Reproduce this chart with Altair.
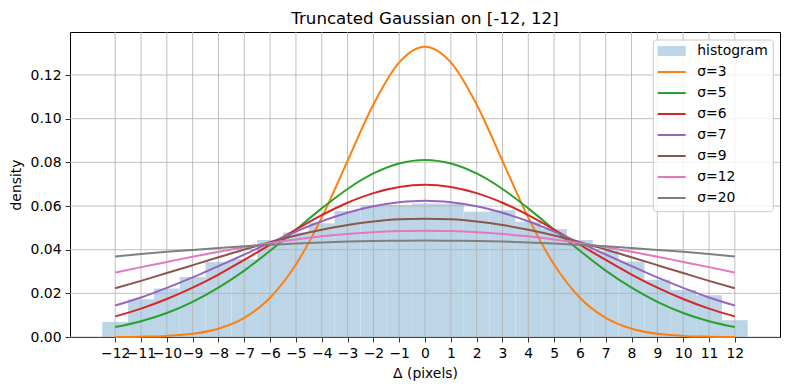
import altair as alt
import pandas as pd

# ---------------- data ----------------
x_ticks = list(range(-12, 13))
y_ticks = [0.00, 0.02, 0.04, 0.06, 0.08, 0.10, 0.12]

bin_centers = list(range(-12, 13))
hist_density = [0.0069, 0.0173, 0.0222, 0.0275, 0.0343, 0.0356, 0.0444, 0.0479,
                0.0521, 0.0577, 0.0604, 0.0605, 0.0612, 0.0610, 0.0574, 0.0581,
                0.0528, 0.0495, 0.0444, 0.0395, 0.0346, 0.0262, 0.0215, 0.0191, 0.0077]

curve_x = list(range(-12, 13))
sigma3 = [0.00004, 0.00016, 0.00051, 0.00148, 0.00380, 0.00874, 0.0180, 0.0332, 0.0547,
          0.0807, 0.1065, 0.1258, 0.1330, 0.1258, 0.1065, 0.0807, 0.0547, 0.0332,
          0.0180, 0.00874, 0.00380, 0.00148, 0.00051, 0.00016, 0.00004]
sigma5 = [0.00455, 0.00721, 0.0110, 0.0161, 0.0226, 0.0304, 0.0395, 0.0492, 0.0589,
          0.0678, 0.0749, 0.0795, 0.0811, 0.0795, 0.0749, 0.0678, 0.0589, 0.0492,
          0.0395, 0.0304, 0.0226, 0.0161, 0.0110, 0.00721, 0.00455]
sigma6 = [0.00943, 0.0130, 0.0174, 0.0226, 0.0286, 0.0353, 0.0423, 0.0492, 0.0558,
          0.0615, 0.0659, 0.0687, 0.0697, 0.0687, 0.0659, 0.0615, 0.0558, 0.0492,
          0.0423, 0.0353, 0.0286, 0.0226, 0.0174, 0.0130, 0.00943]
sigma7 = [0.0144, 0.0181, 0.0225, 0.0273, 0.0325, 0.0378, 0.0432, 0.0483, 0.0530,
          0.0569, 0.0599, 0.0617, 0.0624, 0.0617, 0.0599, 0.0569, 0.0530, 0.0483,
          0.0432, 0.0378, 0.0325, 0.0273, 0.0225, 0.0181, 0.0144]
sigma9 = [0.0223, 0.0257, 0.0293, 0.0329, 0.0365, 0.0401, 0.0434, 0.0465, 0.0491,
          0.0513, 0.0529, 0.0539, 0.0542, 0.0539, 0.0529, 0.0513, 0.0491, 0.0465,
          0.0434, 0.0401, 0.0365, 0.0329, 0.0293, 0.0257, 0.0223]
sigma12 = [0.0295, 0.0320, 0.0344, 0.0368, 0.0390, 0.0411, 0.0430, 0.0447, 0.0461,
           0.0472, 0.0480, 0.0485, 0.0487, 0.0485, 0.0480, 0.0472, 0.0461, 0.0447,
           0.0430, 0.0411, 0.0390, 0.0368, 0.0344, 0.0320, 0.0295]
sigma20 = [0.0369, 0.0380, 0.0390, 0.0399, 0.0408, 0.0416, 0.0422, 0.0428, 0.0433,
           0.0437, 0.0440, 0.0441, 0.0442, 0.0441, 0.0440, 0.0437, 0.0433, 0.0428,
           0.0422, 0.0416, 0.0408, 0.0399, 0.0390, 0.0380, 0.0369]

series_names = ["σ=3", "σ=5", "σ=6", "σ=7", "σ=9", "σ=12", "σ=20"]
series_values = [sigma3, sigma5, sigma6, sigma7, sigma9, sigma12, sigma20]
series_colors = ["#ff7f0e", "#2ca02c", "#d62728", "#9467bd", "#8c564b", "#e377c2", "#7f7f7f"]
hist_label = "histogram"
hist_color = "#bcd6e8"

# ---------------- tables ----------------
df_hist = pd.DataFrame({"center": bin_centers, "density": hist_density})
rows = []
for name, vals in zip(series_names, series_values):
    for xv, yv in zip(curve_x, vals):
        rows.append({"x": xv, "density": yv, "series": name})
df_lines = pd.DataFrame(rows)
df_xt = pd.DataFrame({"tick": x_ticks})
df_yt = pd.DataFrame({"tick": y_ticks})
leg_labels = [hist_label] + series_names
leg_colors = [hist_color] + series_colors
df_leg = pd.DataFrame({
    "label": leg_labels,
    "color": leg_colors,
    "kind": ["patch"] + ["line"] * len(series_names),
    "row": list(range(len(leg_labels))),
})

FONT = "DejaVu Sans"
xscale = alt.Scale(domain=[-13.75, 13.75], nice=False, zero=False)
yscale = alt.Scale(domain=[0, 0.1397], nice=False, zero=False)

x_axis = alt.Axis(values=x_ticks, title="Δ (pixels)", grid=False, domain=False,
                  tickColor="black", tickSize=5, tickWidth=0.8,
                  labelExpr="replace(datum.label, '-', '−')",
                  labelOverlap=False, labelBound=False, labelFlush=False,
                  labelPadding=4, titlePadding=7,
                  labelFont=FONT, labelFontSize=13.9, labelColor="black",
                  titleFont=FONT, titleFontSize=13.9, titleFontWeight="normal",
                  titleColor="black")
y_axis = alt.Axis(values=y_ticks, format=".2f", title="density", grid=False,
                  domain=False, tickColor="black", tickSize=5, tickWidth=0.8,
                  labelPadding=4, titlePadding=7,
                  labelFont=FONT, labelFontSize=13.9, labelColor="black",
                  titleFont=FONT, titleFontSize=13.9, titleFontWeight="normal",
                  titleColor="black")

bars = alt.Chart(df_hist).transform_calculate(
    x0="datum.center - 0.5", x1="datum.center + 0.5"
).mark_rect(color=hist_color).encode(
    x=alt.X("x0:Q", scale=xscale, axis=x_axis),
    x2="x1:Q",
    y=alt.Y("density:Q", scale=yscale, axis=y_axis),
)

vgrid = alt.Chart(df_xt).mark_rule(color="#b0b0b0", strokeWidth=0.8).encode(
    x=alt.X("tick:Q", scale=xscale, axis=x_axis)
)
hgrid = alt.Chart(df_yt).mark_rule(color="#b0b0b0", strokeWidth=0.8).encode(
    y=alt.Y("tick:Q", scale=yscale, axis=y_axis)
)

lines = alt.Chart(df_lines).mark_line(strokeWidth=2, interpolate="monotone").encode(
    x=alt.X("x:Q", scale=xscale, axis=x_axis),
    y=alt.Y("density:Q", scale=yscale, axis=y_axis),
    color=alt.Color("series:N", scale=alt.Scale(domain=series_names, range=series_colors),
                    legend=None),
    detail="series:N",
)

# ---------------- legend (drawn with marks) ----------------
frame = alt.Chart(alt.Data(values=[{}])).mark_rect(
    fill="white", fillOpacity=0.8, stroke="#cccccc", strokeWidth=1, cornerRadius=3
).encode(
    x=alt.value(583.3), x2=alt.value(703.3), y=alt.value(8), y2=alt.value(179.7)
)
leg_base = alt.Chart(df_leg).transform_calculate(
    py="19 + 21 * datum.row", py0="14 + 21 * datum.row", py1="24 + 21 * datum.row"
)
leg_patch = leg_base.transform_filter("datum.kind == 'patch'").mark_rect().encode(
    x=alt.value(587.7), x2=alt.value(615.7),
    y=alt.Y("py0:Q", scale=None), y2="py1:Q",
    color=alt.Color("color:N", scale=None, legend=None),
)
leg_lines = leg_base.transform_filter("datum.kind == 'line'").mark_rule(strokeWidth=2).encode(
    x=alt.value(587.7), x2=alt.value(615.7),
    y=alt.Y("py:Q", scale=None),
    color=alt.Color("color:N", scale=None, legend=None),
)
leg_text = leg_base.mark_text(align="left", baseline="middle", font=FONT,
                              fontSize=13.9, color="#000000").encode(
    x=alt.value(627.3),
    y=alt.Y("py:Q", scale=None),
    text="label:N",
)

chart = alt.layer(bars, vgrid, hgrid, lines, frame, leg_patch, leg_lines, leg_text).properties(
    width=710, height=305,
    title=alt.TitleParams("Truncated Gaussian on [-12, 12]", font=FONT, fontSize=16.67,
                          fontWeight="normal", color="black", anchor="middle",
                          baseline="alphabetic", offset=-9),
    autosize=alt.AutoSizeParams(type="none"),
    padding={"left": 62, "top": 24, "right": 2, "bottom": 45},
    background="white",
).configure_view(
    stroke="black", strokeWidth=1
)

chart.save("out.html", embed_options={"renderer": "svg", "actions": False})
